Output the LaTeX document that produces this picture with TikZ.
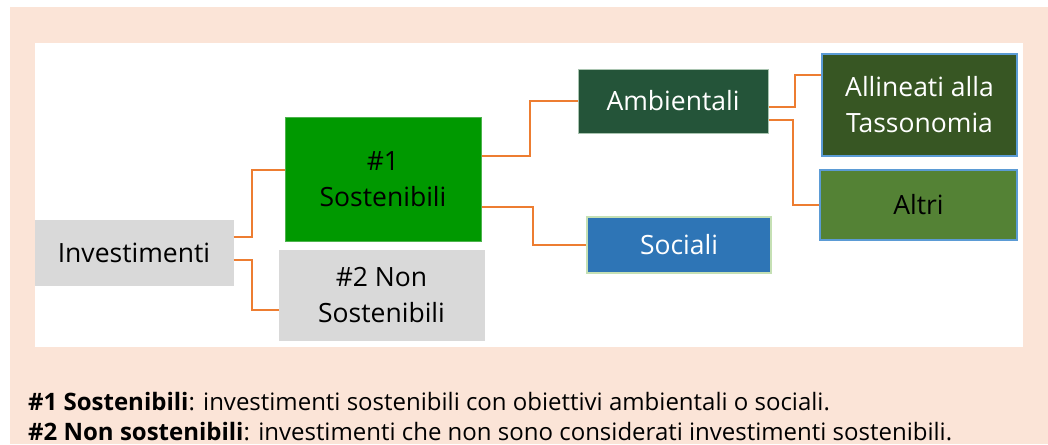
\documentclass[tikz,border=0pt]{standalone}
\usepackage{fontspec}
\setmainfont{Open Sans}
\definecolor{peach}{HTML}{FBE4D7}
\definecolor{conn}{HTML}{ED7D31}
\definecolor{grayfill}{HTML}{D9D9D9}
\definecolor{green1}{HTML}{009900}
\definecolor{green1b}{HTML}{4DB34D}
\definecolor{ambfill}{HTML}{245439}
\definecolor{ambbord}{HTML}{A9C4B0}
\definecolor{socfill}{HTML}{2E75B6}
\definecolor{socbord}{HTML}{C5E0B4}
\definecolor{allfill}{HTML}{375623}
\definecolor{bluebord}{HTML}{5B9BD5}
\definecolor{altfill}{HTML}{548235}
\begin{document}
\begin{tikzpicture}[x=1pt,y=-1pt,
  box/.style={draw, line width=1pt, inner sep=0pt, align=center,
    font=\fontsize{26.5}{36}\selectfont},
  link/.style={draw=conn, line width=1.4pt},
  note/.style={anchor=base west, inner sep=0pt, font=\fontsize{24}{28}\selectfont}]
\useasboundingbox (0,0) rectangle (1048,444);
\fill[peach] (10,7) rectangle (1048,444);
\fill[white] (35,43) rectangle (1023,347);
\node[box, fill=grayfill, draw=grayfill, minimum width=198pt, minimum height=65pt] (inv) at (134,253) {Investimenti};
\node[box, fill=green1, draw=green1b, minimum width=196pt, minimum height=124pt] (s1) at (383,179) {\#1\\Sostenibili};
\node[box, fill=grayfill, draw=grayfill, minimum width=205pt, minimum height=90pt] (s2) at (381.5,295) {\#2 Non\\Sostenibili};
\node[box, fill=ambfill, draw=ambbord, text=white, minimum width=190pt, minimum height=64pt] (amb) at (673,101) {Ambientali};
\node[box, fill=socfill, draw=socbord, line width=2.5pt, text=white, minimum width=184pt, minimum height=56pt] (soc) at (679,245) {Sociali};
\node[box, fill=allfill, draw=bluebord, line width=2.5pt, text=white, minimum width=195pt, minimum height=102pt] (all) at (919.5,105) {Allineati alla\\Tassonomia};
\node[box, fill=altfill, draw=bluebord, line width=2.5pt, minimum width=197pt, minimum height=70pt] (alt) at (918.5,205) {Altri};
\draw[link] (inv.east |- 0,237) -- (252,237) |- (s1.west |- 0,170);
\draw[link] (inv.east |- 0,260) -- (252,260) |- (s2.west |- 0,310);
\draw[link] (s1.east |- 0,156) -- (530,156) |- (amb.west |- 0,101);
\draw[link] (s1.east |- 0,207) -- (533,207) |- (soc.west |- 0,245);
\draw[link] (amb.east |- 0,107) -- (795,107) |- (all.west |- 0,75);
\draw[link] (amb.east |- 0,120) -- (793,120) |- (alt.west |- 0,205);
\node[note] (n1) at (28,410) {\textbf{\#1 Sostenibili}: investimenti sostenibili con obiettivi ambientali o sociali.};
\node[note] (n2) at (28,440) {\textbf{\#2 Non sostenibili}: investimenti che non sono considerati investimenti sostenibili.};
\end{tikzpicture}
\end{document}
